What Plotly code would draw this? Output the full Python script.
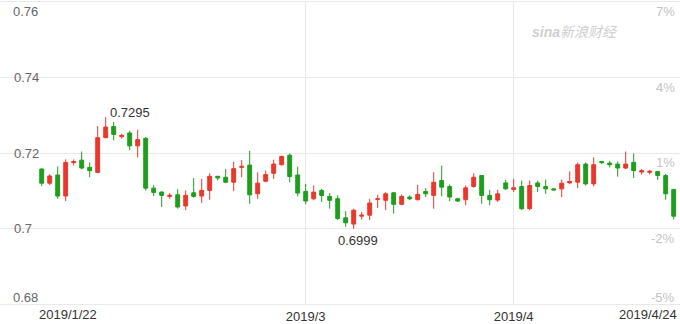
import pandas as pd
import plotly.graph_objects as go

# trading days (Mon-Sat, as in the sina forex daily feed)
dates = [d.strftime("%Y-%m-%d") for d in pd.date_range("2019-01-22", "2019-04-24") if d.weekday() != 6]

open_ = [0.71575, 0.712, 0.71418, 0.70859, 0.71743, 0.71811, 0.7162, 0.71488, 0.72407, 0.72703,
         0.72433, 0.7253, 0.72189, 0.72388, 0.71069, 0.70964, 0.70851, 0.70893, 0.70597, 0.70946,
         0.70859, 0.71008, 0.71383, 0.71357, 0.71226, 0.7162, 0.7168, 0.70919, 0.71252, 0.71462,
         0.7169, 0.71942, 0.71418, 0.70982, 0.70788, 0.71008, 0.70851, 0.70788, 0.70282, 0.70117,
         0.70326, 0.70353, 0.70772, 0.70746, 0.70946, 0.70641, 0.70833, 0.70762, 0.70982, 0.70877,
         0.71271, 0.71113, 0.70788, 0.70762, 0.71113, 0.71402, 0.70877, 0.70754, 0.71208, 0.71035,
         0.71113, 0.70526, 0.71208, 0.71113, 0.7105, 0.7105, 0.71208, 0.71226, 0.71706, 0.71182,
         0.71777, 0.71732, 0.71706, 0.71601, 0.71751, 0.71496, 0.71488, 0.71507, 0.71402, 0.71035]
high = [0.71593, 0.71436, 0.71646, 0.71829, 0.71829, 0.72039, 0.71751, 0.72713, 0.7295, 0.72826,
        0.72511, 0.7259, 0.72616, 0.72425, 0.71148, 0.7099, 0.70938, 0.71042, 0.71008, 0.71339,
        0.71313, 0.71462, 0.71391, 0.71575, 0.71769, 0.71811, 0.72058, 0.71488, 0.71533, 0.71822,
        0.71927, 0.71987, 0.71638, 0.71182, 0.7114, 0.7105, 0.70938, 0.70877, 0.70458, 0.70526,
        0.70439, 0.70788, 0.70893, 0.70964, 0.70964, 0.70904, 0.70877, 0.71155, 0.71069, 0.71488,
        0.71664, 0.71166, 0.70814, 0.7114, 0.71462, 0.71418, 0.71024, 0.71024, 0.71286, 0.71313,
        0.71271, 0.71271, 0.71271, 0.71297, 0.71069, 0.71297, 0.71515, 0.71751, 0.71751, 0.71882,
        0.71777, 0.71795, 0.71777, 0.72039, 0.71987, 0.71575, 0.71549, 0.71515, 0.71444, 0.7105]
low = [0.71121, 0.71148, 0.70788, 0.70728, 0.71672, 0.71567, 0.71357, 0.71462, 0.72388, 0.72336,
       0.7238, 0.72073, 0.71882, 0.71008, 0.70859, 0.7057, 0.70788, 0.70526, 0.70484, 0.70814,
       0.70675, 0.70762, 0.71271, 0.712, 0.7099, 0.71357, 0.70657, 0.70788, 0.71226, 0.71313,
       0.71664, 0.71226, 0.70851, 0.70641, 0.70746, 0.70702, 0.70526, 0.70222, 0.70046, 0.6999,
       0.70237, 0.70222, 0.70544, 0.70484, 0.70395, 0.70615, 0.70754, 0.70746, 0.70833, 0.70526,
       0.70851, 0.7072, 0.70702, 0.70615, 0.71077, 0.70657, 0.70615, 0.70702, 0.71024, 0.70964,
       0.70484, 0.70484, 0.70964, 0.70919, 0.71, 0.70833, 0.71182, 0.71069, 0.7114, 0.71113,
       0.71706, 0.7162, 0.71376, 0.71575, 0.71339, 0.71428, 0.71428, 0.71286, 0.70762, 0.70237]
close = [0.712, 0.71391, 0.70859, 0.71751, 0.71769, 0.71601, 0.71533, 0.72407, 0.72687, 0.72493,
         0.72467, 0.72189, 0.72354, 0.71069, 0.70956, 0.70877, 0.70877, 0.7057, 0.70877, 0.70851,
         0.71008, 0.71383, 0.71339, 0.71226, 0.71586, 0.71646, 0.70893, 0.712, 0.71428, 0.71706,
         0.71908, 0.71376, 0.70938, 0.70728, 0.70964, 0.70877, 0.70746, 0.70263, 0.70151, 0.70484,
         0.70353, 0.70675, 0.70788, 0.70919, 0.70641, 0.70851, 0.70788, 0.70904, 0.70919, 0.71226,
         0.71095, 0.70833, 0.70728, 0.71077, 0.71357, 0.70877, 0.70762, 0.70919, 0.7105, 0.71077,
         0.70526, 0.7114, 0.71113, 0.7105, 0.71024, 0.712, 0.71245, 0.7169, 0.71182, 0.7169,
         0.71743, 0.7169, 0.71601, 0.71706, 0.71533, 0.71533, 0.71515, 0.71402, 0.70919, 0.70326]

price_ticks = [0.70, 0.72, 0.74]
price_end_ticks = [0.76, 0.68]
pct_ticks = [7, 4, 1, -2, -5]
month_ticks = ["2019-03-01", "2019-04-01"]
month_labels = ["2019/3", "2019/4"]
first_label = "2019/1/22"
last_label = "2019/4/24"

UP = "#e8392c"
DOWN = "#1f9d1f"
GRID = "#e9e9e9"
PCT_COLOR = "#c4c4c4"
FONT = "Arial, Liberation Sans, sans-serif"

fig = go.Figure()
fig.add_trace(go.Candlestick(
    x=dates, open=open_, high=high, low=low, close=close,
    increasing=dict(line=dict(color=UP, width=1), fillcolor=UP),
    decreasing=dict(line=dict(color=DOWN, width=1), fillcolor=DOWN),
    whiskerwidth=0, showlegend=False, hoverinfo="skip",
))

n = len(dates)
px_per = 8.0
x_range = [-41.7 / px_per, (n - 1) + 6.3 / px_per]

fig.update_layout(
    width=680, height=324,
    margin=dict(l=0, r=0, t=2, b=16),
    paper_bgcolor="white", plot_bgcolor="white",
    font=dict(family=FONT, size=13, color="#666"),
    showlegend=False,
    xaxis=dict(
        type="category", range=x_range, rangeslider=dict(visible=False),
        tickvals=month_ticks, ticktext=month_labels,
        showgrid=True, gridcolor=GRID, gridwidth=1,
        showline=True, linecolor=GRID, linewidth=1, mirror=True,
        ticks="", tickfont=dict(size=13, color="#333"), zeroline=False,
    ),
    yaxis=dict(
        range=[0.68, 0.76], tickvals=price_ticks,
        showgrid=True, gridcolor=GRID, gridwidth=1, zeroline=False,
        ticklabelposition="inside", ticklabelstandoff=11,
        tickfont=dict(size=13, color="#666"), ticks="",
    ),
    yaxis2=dict(
        overlaying="y", side="right", range=[-5, 7],
        showgrid=False, zeroline=False, showticklabels=False, ticks="",
    ),
)

ann = []
for v in price_end_ticks:
    top = v == max(price_end_ticks)
    ann.append(dict(x=0, xref="paper", y=v, yref="y", text=("%g" % v), showarrow=False,
                    xanchor="left", yanchor="top" if top else "bottom",
                    xshift=11, yshift=0 if top else -3, font=dict(size=13, color="#666")))
for v in pct_ticks:
    if v == min(pct_ticks):
        ya, ys = "bottom", -3
    else:
        ya, ys = "top", 0
    ann.append(dict(x=1, xref="paper", y=v, yref="y2", text="%d%%" % v, showarrow=False,
                    xanchor="right", yanchor=ya, xshift=-3, yshift=ys,
                    font=dict(size=13, color=PCT_COLOR)))
# first / last date labels
ann.append(dict(x=dates[0], y=0, xref="x", yref="paper", text=first_label, showarrow=False,
                xanchor="left", yanchor="top", xshift=-5, yshift=-1, font=dict(size=13, color="#333")))
ann.append(dict(x=dates[-1], y=0, xref="x", yref="paper", text=last_label, showarrow=False,
                xanchor="right", yanchor="top", xshift=5, yshift=-1, font=dict(size=13, color="#333")))
# max / min labels
i_max = max(range(n), key=lambda i: high[i])
i_min = min(range(n), key=lambda i: low[i])
ann.append(dict(x=dates[i_max], y=high[i_max], text="%.4f" % high[i_max], showarrow=False,
                xanchor="left", yanchor="bottom", xshift=2, yshift=-5, font=dict(size=13, color="#333")))
ann.append(dict(x=dates[i_min], y=low[i_min], text="%.4f" % low[i_min], showarrow=False,
                xanchor="center", yanchor="top", xshift=4, yshift=-2, font=dict(size=13, color="#333")))
# watermark
ann.append(dict(x=0.846, xref="paper", y=0.9, yref="paper",
                text="<b><i>sina</i></b><i>新浪财经</i>", showarrow=False,
                xanchor="center", yanchor="middle",
                font=dict(size=14, color="#cfcfcf", family="Arial, Noto Sans CJK SC")))
fig.update_layout(annotations=ann)

fig.write_html("out.html")
